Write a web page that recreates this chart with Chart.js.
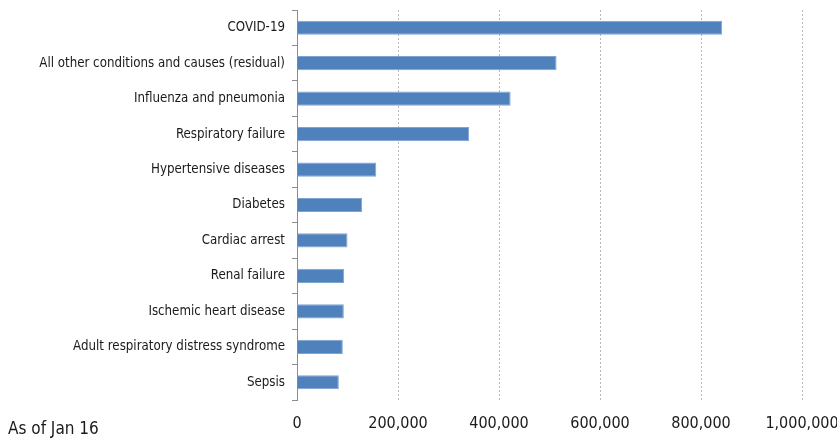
<!DOCTYPE html>
<html>
<head>
<meta charset="utf-8">
<script src="https://cdn.jsdelivr.net/npm/chart.js@4"></script>
<style>
  html, body { margin: 0; padding: 0; background: #fff; }
  #wrap { width: 837px; height: 439px; position: relative; }
</style>
</head>
<body>
<div id="wrap"><canvas id="deaths"></canvas></div>
<script>
// data
const causes = [
  "COVID-19",
  "All other conditions and causes (residual)",
  "Influenza and pneumonia",
  "Respiratory failure",
  "Hypertensive diseases",
  "Diabetes",
  "Cardiac arrest",
  "Renal failure",
  "Ischemic heart disease",
  "Adult respiratory distress syndrome",
  "Sepsis"
];
const deaths = [842000, 514000, 423000, 341000, 157000, 129000, 100000, 93500, 92700, 90700, 82800];
const xTicks = [0, 200000, 400000, 600000, 800000, 1000000];
const note = "As of Jan 16";

// narrow face, like the original's Arial Narrow
const FONT = "'Liberation Sans Narrow', 'DejaVu Sans Condensed', 'Liberation Sans', sans-serif";

// footnote bottom left
const notePlugin = {
  id: "note",
  afterDraw(chart) {
    const ctx = chart.ctx;
    ctx.save();
    ctx.font = "17px " + FONT;
    ctx.fillStyle = "#1a1a1a";
    ctx.textBaseline = "alphabetic";
    ctx.textAlign = "left";
    ctx.fillText(note, 8, 434);
    ctx.restore();
  }
};

function createChart(element) {
  const ctx = document.getElementById(element);
  return new Chart(ctx, {
    type: "bar",
    data: {
      labels: causes,
      datasets: [{
        data: deaths,
        backgroundColor: "#4F81BD",
        borderColor: "#7FA3D1",
        borderWidth: 1,
        barPercentage: 0.4,
        categoryPercentage: 1
      }]
    },
    options: {
      indexAxis: "y",
      responsive: true,
      maintainAspectRatio: false,
      animation: false,
      layout: { padding: { top: 10, right: 35, left: 0, bottom: 0 } },
      plugins: { legend: { display: false }, tooltip: { enabled: false } },
      scales: {
        x: {
          min: 0,
          max: 1000000,
          afterBuildTicks(scale) {
            scale.ticks = xTicks.map(v => ({ value: v }));
          },
          afterFit(scale) {
            scale.height = 39;
            scale.paddingLeft = 0;
            scale.paddingRight = 0;
          },
          // dotted grid lines, no bottom axis line
          border: { display: false, dash: [2, 2] },
          grid: {
            drawTicks: false,
            color: ctx => ctx.tick && ctx.tick.value === 0 ? "rgba(0,0,0,0)" : "#b8b8b8",
            lineWidth: 1
          },
          ticks: {
            padding: 14,
            color: "#1a1a1a",
            font: { family: FONT, size: 16 },
            callback: v => v.toLocaleString("en-US")
          }
        },
        y: {
          afterFit(scale) {
            scale.width = 297;
            scale.paddingTop = 0;
            scale.paddingBottom = 0;
          },
          border: { display: true, color: "#8c8c8c", width: 1 },
          grid: {
            offset: true,
            drawOnChartArea: false,
            drawTicks: true,
            tickLength: 5,
            color: "#8c8c8c"
          },
          ticks: {
            padding: 7,
            color: "#1a1a1a",
            font: { family: FONT, size: 13.2 }
          }
        }
      }
    },
    plugins: [notePlugin]
  });
}

const barChart = createChart("deaths");
</script>
</body>
</html>
